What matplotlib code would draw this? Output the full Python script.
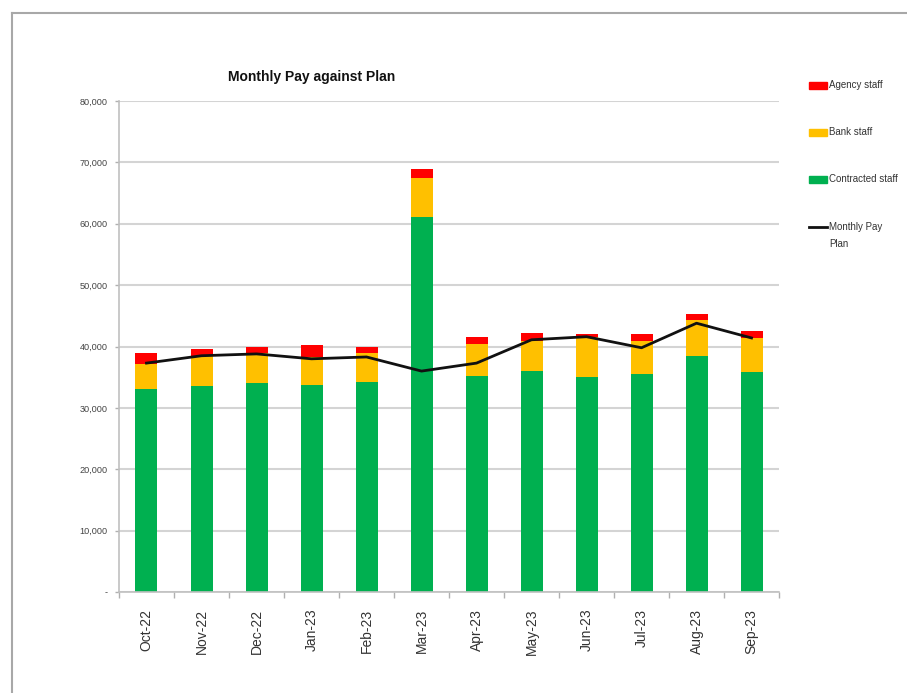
import matplotlib
matplotlib.use('Agg')
from matplotlib import pyplot as pl
from matplotlib.lines import Line2D
from matplotlib.patches import Rectangle
from matplotlib.ticker import FuncFormatter, FixedLocator
import numpy as np

months = ['Oct-22', 'Nov-22', 'Dec-22', 'Jan-23', 'Feb-23', 'Mar-23',
          'Apr-23', 'May-23', 'Jun-23', 'Jul-23', 'Aug-23', 'Sep-23']

# Monthly pay split by staff group
contracted = [33100, 33600, 34100, 33800, 34200, 61100,
              35200, 36000, 35000, 35500, 38500, 35900]
bank = [4000, 4900, 4800, 4500, 4700, 6400,
        5200, 4900, 6500, 5400, 5800, 5500]
agency = [1800, 1100, 1100, 1900, 1100, 1400,
          1100, 1300, 500, 1100, 1000, 1100]
plan = [37300, 38500, 38800, 38000, 38300, 36000,
        37300, 41100, 41600, 39800, 43800, 41400]

c_green = '#00B050'
c_amber = '#FFC000'
c_red = '#FF0000'
c_line = '#111111'

font = 'Liberation Sans'

W, H = 907, 693
fig = pl.figure(figsize=(W/100, H/100), dpi=100)
ax = fig.add_axes([0.1312, 0.1457, 0.7277, 0.7085])

x = np.arange(len(months))
contracted = np.array(contracted)
bank = np.array(bank)
agency = np.array(agency)

w = 0.4
ax.bar(x, contracted, w, color=c_green, zorder=2)
ax.bar(x, bank, w, bottom=contracted, color=c_amber, zorder=2)
ax.bar(x, agency, w, bottom=contracted+bank, color=c_red, zorder=2)
ax.plot(x, plan, color=c_line, lw=2, zorder=3)

ax.set_xlim(-0.5, len(months)-0.5)
ax.set_ylim(0, 80000)
ax.set_yticks(np.arange(0, 80001, 10000))
ax.yaxis.set_major_formatter(FuncFormatter(
    lambda v, p: '-' if v == 0 else '{:,.0f}'.format(v)))
ax.grid(axis='y', color='#d4d4d4', lw=1.5, zorder=0)

ax.set_xticks(x)
ax.set_xticklabels(months, rotation=90, fontsize=10, family=font,
                   color='#333333')
ax.xaxis.set_minor_locator(FixedLocator(np.arange(-0.5, len(months), 1)))
ax.tick_params(axis='x', which='major', length=0, pad=12)
ax.tick_params(axis='x', which='minor', length=4, color='#b0b0b0', width=1)
ax.tick_params(axis='y', length=3, color='#b0b0b0', width=1, pad=5,
               labelsize=6.6, labelcolor='#444444')
for lbl in ax.get_yticklabels():
    lbl.set_family(font)

for s in ['top', 'right']:
    ax.spines[s].set_visible(False)
for s in ['left', 'bottom']:
    ax.spines[s].set_color('#c0c0c0')
    ax.spines[s].set_linewidth(1.2)

fig.text(312/W, 1-77/H, 'Monthly Pay against Plan', ha='center', va='center',
         fontsize=10, fontweight='bold', family=font, color='#111111')

# legend on the right, one entry per row
legend_rows = [(c_red, 'Agency staff', 85), (c_amber, 'Bank staff', 132),
               (c_green, 'Contracted staff', 179)]
for color, text, yp in legend_rows:
    fig.add_artist(Rectangle((809/W, 1-(yp+3.5)/H), 18/W, 7/H,
                             transform=fig.transFigure, color=color))
    fig.text(829/W, 1-yp/H, text, va='center', ha='left', fontsize=7,
             family=font, color='#333333')
fig.add_artist(Line2D([809/W, 827/W], [1-227/H, 1-227/H],
                      transform=fig.transFigure, color=c_line, lw=2))
fig.text(829/W, 1-227/H, 'Monthly Pay', va='center', ha='left', fontsize=7,
         family=font, color='#333333')
fig.text(829/W, 1-244/H, 'Plan', va='center', ha='left', fontsize=7,
         family=font, color='#333333')

# outer frame of the chart area
fig.add_artist(Line2D([12/W, 1.0], [1-13/H, 1-13/H], transform=fig.transFigure,
                      color='#a8a8a8', lw=1.5))
fig.add_artist(Line2D([12/W, 12/W], [0.0, 1-13/H], transform=fig.transFigure,
                      color='#a8a8a8', lw=1.5))

fig.savefig('out.png', dpi=100)
